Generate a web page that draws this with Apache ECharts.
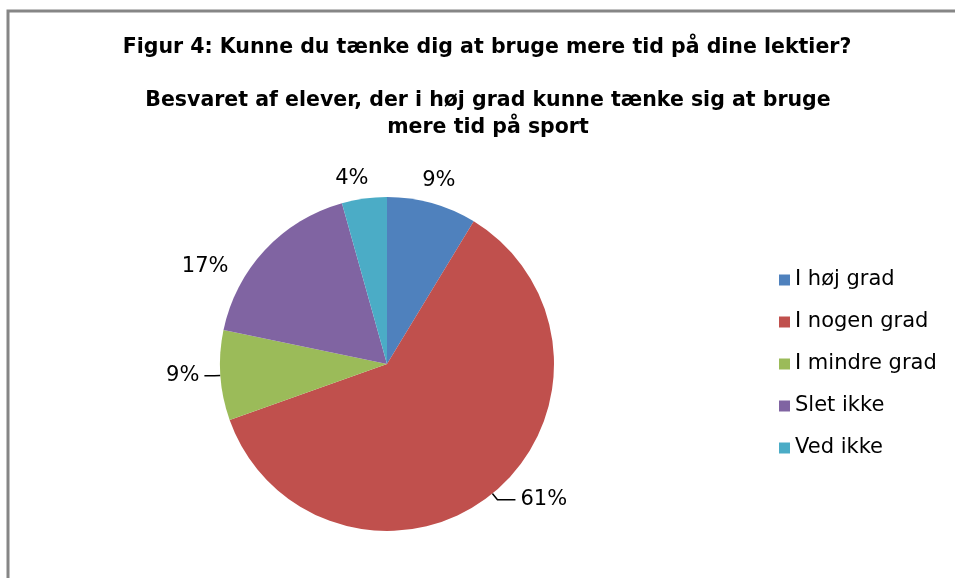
<!DOCTYPE html>
<html>
<head>
<meta charset="utf-8">
<script src="https://cdn.jsdelivr.net/npm/echarts@6/dist/echarts.min.js"></script>
<style>
  html, body { margin: 0; padding: 0; background: #fff; }
  #pie { width: 955px; height: 578px; }
</style>
</head>
<body>
<div id="pie"></div>
<script>
// svar fra 23 elever
var categories = ['I høj grad', 'I nogen grad', 'I mindre grad', 'Slet ikke', 'Ved ikke'];
var counts = [2, 14, 2, 4, 1];
var colors = ['#4F81BD', '#C0504D', '#9BBB59', '#8064A2', '#4BACC6'];
// linjer kun ved 61% og den nederste 9%
var showLine = [false, true, true, false, false];
// label-placering pr. udsnit: [length, length2, distanceToLabelLine]
var labelPos = [[23, 0, -16], [8, 18, 5], [6, 10, 5], [-24, 49, 5], [20, 0, -7]];

var chartDom = document.getElementById('pie');
var myChart = echarts.init(chartDom);
var option;

var font = 'DejaVu Sans, Verdana, sans-serif';

var data = categories.map(function (name, i) {
    return {
        name: name,
        value: counts[i],
        itemStyle: { color: colors[i] },
        label: { distanceToLabelLine: labelPos[i][2] },
        labelLine: { show: showLine[i], length: labelPos[i][0], length2: labelPos[i][1] }
    };
});

option = {
    backgroundColor: '#fff',
    title: [
        {
            text: 'Figur 4: Kunne du tænke dig at bruge mere tid på dine lektier?',
            left: 487,
            top: 38,
            padding: 0,
            textAlign: 'center',
            textStyle: { fontFamily: font, fontSize: 20.5, fontWeight: 'bold', color: '#000', lineHeight: 20 }
        },
        {
            text: 'Besvaret af elever, der i høj grad kunne tænke sig at bruge\nmere tid på sport',
            left: 488,
            top: 87,
            padding: 0,
            textAlign: 'center',
            textStyle: { fontFamily: font, fontSize: 20.5, fontWeight: 'bold', color: '#000', lineHeight: 27 }
        }
    ],
    legend: {
        orient: 'vertical',
        left: 779,
        top: 268,
        padding: 0,
        itemWidth: 11,
        itemHeight: 11,
        itemGap: 18,
        icon: 'rect',
        data: categories,
        textStyle: { fontFamily: font, fontSize: 21, color: '#000', lineHeight: 24 }
    },
    graphic: [
        {
            type: 'rect',
            shape: { x: 8, y: 11, width: 1000, height: 700 },
            style: { fill: 'none', stroke: '#868686', lineWidth: 3 },
            silent: true
        }
    ],
    series: [
        {
            name: 'Besvarelser',
            type: 'pie',
            center: [387, 364],
            radius: 167,
            startAngle: 90,
            clockwise: true,
            data: data,
            label: {
                position: 'outside',
                formatter: function (p) { return Math.round(p.percent) + '%'; },
                fontFamily: font,
                fontSize: 21,
                color: '#000'
            },
            labelLine: {
                lineStyle: { color: '#000', width: 1.5 }
            },
            emphasis: { scale: false }
        }
    ]
};

option && myChart.setOption(option);
</script>
</body>
</html>
